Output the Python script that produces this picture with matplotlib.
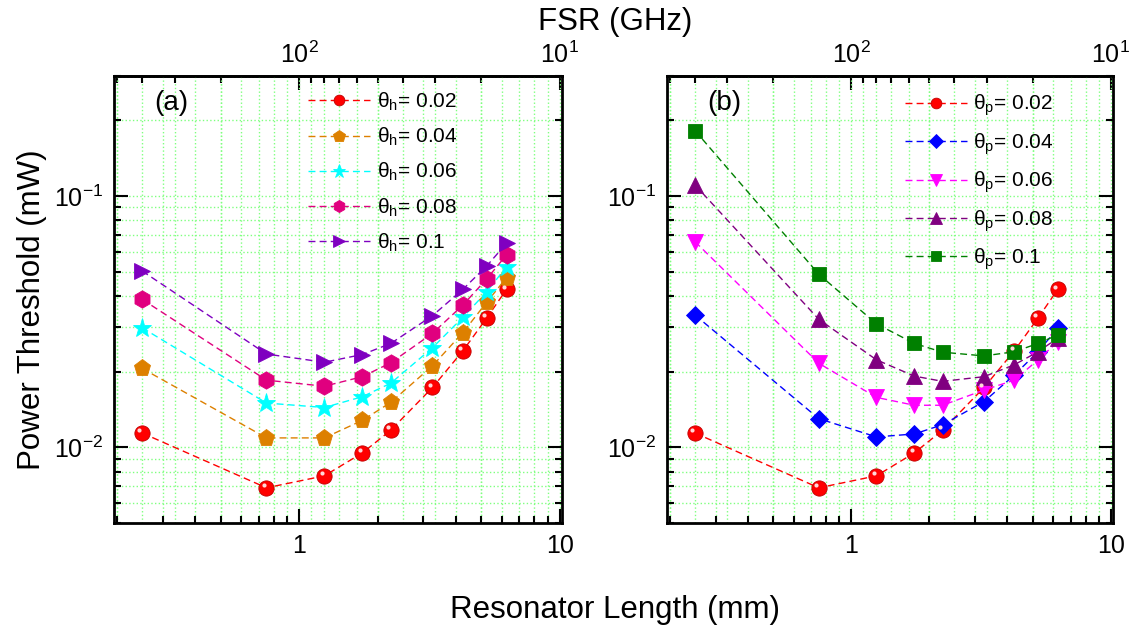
import matplotlib
matplotlib.use("Agg")
import matplotlib.pyplot as plt
from matplotlib.ticker import LogLocator, FuncFormatter, NullFormatter
from matplotlib.transforms import offset_copy

plt.rcParams["font.family"] = ["Liberation Sans", "DejaVu Sans"]
plt.rcParams["mathtext.fontset"] = "custom"
plt.rcParams["mathtext.rm"] = "Liberation Sans"
plt.rcParams["mathtext.it"] = "Liberation Sans"
plt.rcParams["mathtext.default"] = "regular"

# resonator length (mm), shared by both panels
length_mm = [0.25, 0.75, 1.25, 1.75, 2.25, 3.25, 4.25, 5.25, 6.25]

# panel (a): theta_h
theta_h = ["0.02", "0.04", "0.06", "0.08", "0.1"]
power_h = [
    [0.0114, 0.0069, 0.0077, 0.0095, 0.0117, 0.0173, 0.0242, 0.0327, 0.0425],
    [0.0206, 0.0109, 0.0109, 0.0128, 0.0151, 0.0211, 0.0286, 0.0378, 0.0473],
    [0.0299, 0.0150, 0.0144, 0.0159, 0.0180, 0.0249, 0.0329, 0.0416, 0.0523],
    [0.0388, 0.0185, 0.0175, 0.0191, 0.0217, 0.0284, 0.0368, 0.0468, 0.0583],
    [0.0503, 0.0235, 0.0218, 0.0234, 0.0259, 0.0334, 0.0425, 0.0527, 0.0648],
]

# panel (b): theta_p
theta_p = ["0.02", "0.04", "0.06", "0.08", "0.1"]
power_p = [
    [0.0114, 0.0069, 0.0077, 0.0095, 0.0117, 0.0173, 0.0242, 0.0327, 0.0425],
    [0.0336, 0.0130, 0.0110, 0.0113, 0.0123, 0.0152, 0.0194, 0.0240, 0.0298],
    [0.0658, 0.0216, 0.0158, 0.0147, 0.0147, 0.0169, 0.0185, 0.0223, 0.0263],
    [0.1106, 0.0323, 0.0223, 0.0192, 0.0183, 0.0191, 0.0213, 0.0240, 0.0272],
    [0.1820, 0.0488, 0.0310, 0.0259, 0.0239, 0.0231, 0.0240, 0.0259, 0.0280],
]

# top axis major ticks (FSR in GHz)
fsr_ticks = [100, 10]

style_h = [("o", "#ff0000", 11), ("p", "#dd8000", 12.5), ("*", "#00ffff", 14),
           ("h", "#e0007f", 12.5), (">", "#7f00c0", 12)]
style_p = [("o", "#ff0000", 11), ("D", "#0000ff", 9.5), ("v", "#ff00ff", 12),
           ("^", "#800080", 12), ("s", "#008000", 10)]

XLIM = (0.195, 10.2)
YLIM = (0.005, 0.3)
GRID = dict(color="#80ff80", linestyle=":", linewidth=1.0)

fig = plt.figure(figsize=(11.33, 6.32), dpi=100)
ax_a = fig.add_axes([0.1006, 0.1725, 0.3954, 0.7072])
ax_b = fig.add_axes([0.5887, 0.1725, 0.3936, 0.7072])


def draw_panel(ax, powers, thetas, styles, sub, tag):
    for vals, th, (mk, col, ms) in zip(powers, thetas, styles):
        ax.plot(length_mm, vals, linestyle=(0, (5, 3)), linewidth=1.0, color=col,
                marker=mk, markersize=ms, markerfacecolor=col,
                markeredgecolor=col if mk != "o" else "#c00000", markeredgewidth=0.6,
                label=f"θ$_{{{sub}}}$= {th}", zorder=3)
        if mk == "o":
            # small highlight to mimic the shaded sphere
            tr = offset_copy(ax.transData, fig=fig, x=-2, y=2, units="points")
            ax.plot(length_mm, vals, linestyle="none", marker="o", markersize=3,
                    color="#ffd8d8", markeredgewidth=0, transform=tr, zorder=4)

    ax.set_xscale("log")
    ax.set_yscale("log")
    ax.set_xlim(*XLIM)
    ax.set_ylim(*YLIM)

    ax.xaxis.set_major_formatter(FuncFormatter(lambda v, p: f"{v:g}"))
    ax.xaxis.set_minor_formatter(NullFormatter())
    ax.yaxis.set_minor_formatter(NullFormatter())

    ax.grid(True, which="both", **GRID)
    ax.set_axisbelow(True)

    # FSR grid lines (top axis minor ticks)
    fsr_minor = LogLocator(base=10, subs=range(2, 10)).tick_values(100 / XLIM[1], 100 / XLIM[0])
    for f in fsr_minor:
        L = 100 / f
        if XLIM[0] < L < XLIM[1]:
            ax.axvline(L, zorder=0, **GRID)

    ax.tick_params(which="both", direction="in", right=True, top=False,
                   labelsize=18, width=1.5)
    ax.tick_params(which="major", length=10, pad=8)
    ax.tick_params(which="minor", length=5)
    for s in ax.spines.values():
        s.set_linewidth(2)

    sec = ax.secondary_xaxis("top", functions=(lambda x: 100 / x, lambda x: 100 / x))
    sec.set_xticks(fsr_ticks)
    sec.xaxis.set_minor_locator(LogLocator(base=10, subs=range(2, 10)))
    sec.xaxis.set_minor_formatter(NullFormatter())
    sec.tick_params(which="both", direction="in", labelsize=18, width=1.5)
    sec.tick_params(which="major", length=10, pad=6)
    sec.tick_params(which="minor", length=5)
    sec.spines["top"].set_linewidth(2)

    ax.text(0.09, 0.94, tag, transform=ax.transAxes, fontsize=20, ha="left", va="center")

    leg = ax.legend(loc="upper left", bbox_to_anchor=(0.4, 1.0) if tag == "(a)" else (0.5, 0.995),
                    frameon=False, fontsize=15, handlelength=3.0, handletextpad=0.3,
                    labelspacing=0.62, markerscale=0.7, borderaxespad=0.3)
    return leg


draw_panel(ax_a, power_h, theta_h, style_h, "h", "(a)")
draw_panel(ax_b, power_p, theta_p, style_p, "p", "(b)")

fig.text(32 / 1133, 1 - 310 / 632, "Power Threshold (mW)", rotation=90,
         fontsize=22.5, ha="center", va="center")
fig.text(615 / 1133, 1 - 610 / 632, "Resonator Length (mm)", fontsize=22.5,
         ha="center", va="center")
fig.text(615 / 1133, 1 - 22 / 632, "FSR (GHz)", fontsize=22.5, ha="center", va="center")

fig.savefig("out.png", dpi=100)
